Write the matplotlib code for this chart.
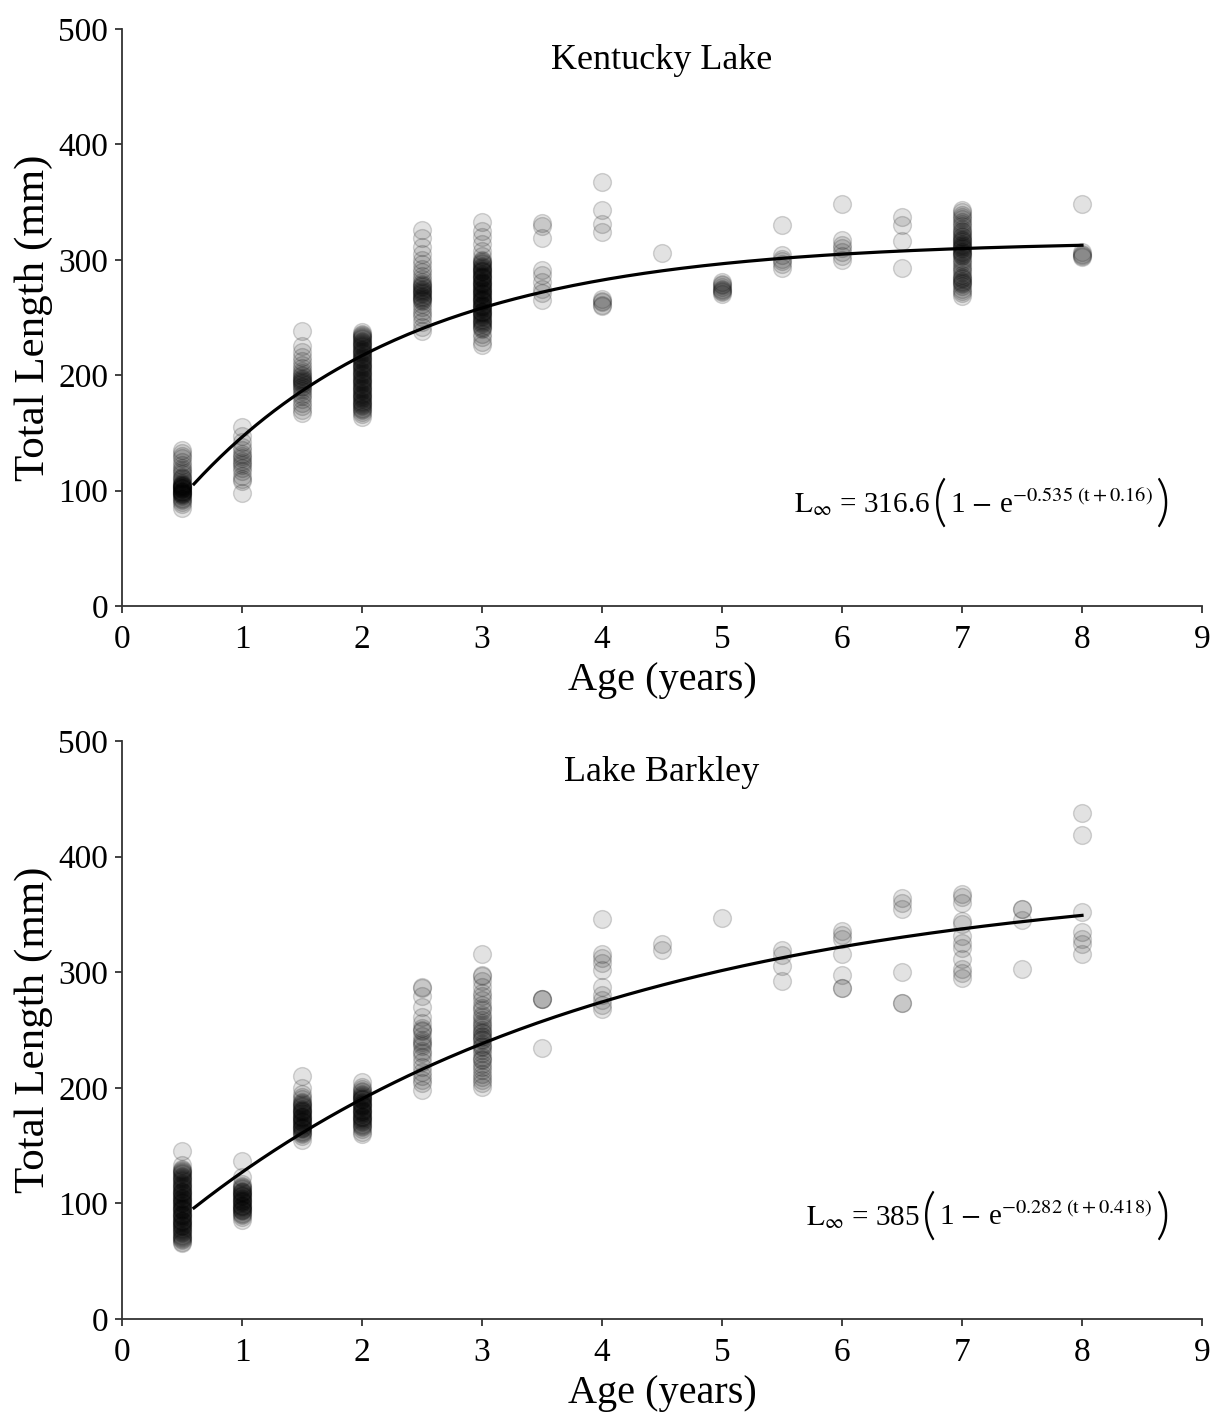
import numpy as np
import matplotlib
matplotlib.use("Agg")
import matplotlib.pyplot as plt
from matplotlib.offsetbox import TextArea, HPacker, AnnotationBbox

plt.rcParams["font.family"] = ["Liberation Serif", "DejaVu Serif"]
plt.rcParams["mathtext.fontset"] = "stix"

# ---------------- Data ----------------
kl_ages = [0.5, 1, 1.5, 2, 2.5, 3, 3.5, 4, 4.5, 5, 5.5, 6, 6.5, 7, 8]
kl_lengths = [
    [135, 133, 130, 128, 125, 122, 120, 118, 116, 114, 112, 111, 110, 108, 107,
     106, 105, 105, 104, 104, 103, 103, 102, 102, 101, 101, 100, 100, 99, 99,
     98, 98, 97, 97, 96, 95, 94, 93, 92, 90, 88, 85],
    [155, 147, 142, 138, 135, 132, 130, 128, 126, 124, 122, 120, 117, 113, 110,
     108, 98],
    [238, 225, 220, 216, 212, 209, 206, 204, 202, 200, 199, 198, 197, 196, 195,
     194, 193, 192, 191, 190, 188, 186, 184, 182, 179, 176, 173, 170, 167],
    [237, 236, 235, 234, 233, 232, 231, 230, 229, 228, 227, 226, 225, 224, 223,
     222, 221, 220, 219, 218, 217, 216, 215, 214, 213, 212, 211, 210, 209, 208,
     207, 206, 205, 204, 203, 202, 201, 200, 199, 198, 197, 196, 195, 194, 193,
     192, 191, 190, 189, 188, 187, 186, 185, 184, 183, 182, 181, 180, 179, 178,
     177, 176, 175, 174, 173, 172, 171, 170, 168, 166, 164],
    [326, 319, 311, 305, 300, 296, 292, 289, 286, 283, 281, 279, 278, 277, 276,
     275, 274, 273, 272, 271, 270, 269, 268, 267, 266, 265, 264, 262, 259, 256,
     253, 250, 246, 242, 238],
    [333, 325, 320, 314, 308, 303, 300, 299, 298, 297, 296, 295, 294, 293, 292,
     291, 290, 289, 288, 287, 286, 285, 284, 283, 282, 281, 280, 279, 278, 277,
     276, 275, 274, 273, 272, 271, 270, 269, 268, 267, 266, 265, 264, 263, 262,
     261, 260, 259, 258, 257, 256, 255, 254, 253, 252, 251, 250, 249, 248, 247,
     246, 245, 244, 243, 242, 241, 240, 236, 233, 229, 226, 290, 285, 280, 275,
     270, 265, 260, 255],
    [332, 329, 319, 291, 287, 281, 275, 271, 265],
    [367, 343, 331, 324, 266, 264, 263, 261, 260],
    [306],
    [281, 279, 278, 276, 275, 274, 273, 272, 270],
    [330, 304, 301, 299, 296, 293],
    [348, 317, 313, 310, 307, 303, 300],
    [337, 330, 316, 293],
    [343, 341, 339, 337, 335, 333, 331, 329, 327, 325, 324, 322, 321, 320, 318,
     317, 316, 315, 314, 313, 312, 311, 310, 309, 308, 307, 306, 305, 304, 303,
     301, 299, 297, 295, 293, 291, 289, 287, 285, 284, 283, 282, 281, 280, 279,
     277, 275, 273, 271, 269],
    [348, 307, 305, 304, 303, 302],
]

lb_ages = [0.5, 1, 1.5, 2, 2.5, 3, 3.5, 4, 4.5, 5, 5.5, 6, 6.5, 7, 7.5, 8]
lb_lengths = [
    [145, 133, 130, 129, 128, 127, 126, 125, 124, 123, 122, 121, 120, 119, 118,
     117, 116, 115, 114, 113, 112, 111, 110, 109, 108, 107, 106, 105, 104, 103,
     102, 101, 100, 99, 98, 97, 96, 95, 94, 93, 92, 91, 90, 89, 88, 87, 86, 85,
     84, 83, 82, 81, 80, 79, 78, 77, 76, 75, 74, 73, 72, 71, 70, 69, 68, 67, 66,
     110, 105, 100, 95, 90, 85, 80],
    [137, 123, 117, 115, 114, 113, 112, 111, 110, 109, 108, 107, 106, 105, 104,
     103, 102, 101, 100, 99, 98, 97, 96, 95, 94, 93, 92, 91, 90, 88, 86, 110,
     106, 102, 98, 94],
    [210, 200, 195, 192, 190, 188, 187, 186, 185, 184, 183, 182, 181, 180, 179,
     178, 177, 176, 175, 174, 173, 172, 171, 170, 169, 168, 167, 166, 165, 164,
     163, 162, 161, 160, 158, 155, 180, 175, 170, 165],
    [205, 201, 199, 197, 196, 195, 194, 193, 192, 191, 190, 189, 188, 187, 186,
     185, 184, 183, 182, 181, 180, 179, 178, 177, 176, 175, 174, 173, 172, 171,
     170, 169, 168, 167, 166, 164, 162, 160, 190, 185, 180, 175],
    [287, 286, 279, 270, 261, 256, 252, 249, 245, 241, 238, 236, 232, 227, 222,
     218, 214, 210, 207, 204, 198, 250, 240, 230],
    [316, 298, 297, 292, 287, 282, 279, 276, 272, 269, 267, 263, 261, 259, 256,
     254, 253, 250, 248, 247, 244, 242, 241, 238, 236, 233, 230, 227, 224, 221,
     218, 215, 212, 209, 207, 204, 201, 245, 235, 225],
    [277, 277, 277, 234],
    [346, 316, 312, 308, 302, 287, 280, 276, 272, 268],
    [324, 319],
    [347],
    [319, 315, 305, 292],
    [336, 332, 329, 316, 298, 286, 286],
    [364, 360, 355, 300, 273, 273],
    [368, 365, 360, 344, 342, 331, 325, 321, 311, 303, 299, 295],
    [355, 355, 345, 303],
    [438, 419, 352, 335, 329, 324, 316],
]

# von Bertalanffy fits shown on the panels: (Linf, k, t0)
kl_fit = (316.6, 0.535, -0.16)
lb_fit = (385, 0.282, -0.418)
fit_range = (0.6, 8)

titles = ["Kentucky Lake", "Lake Barkley"]
eq_lhs = [r"$\mathrm{L}_{\infty}$ = 316.6", r"$\mathrm{L}_{\infty}$ = 385"]
eq_body = [r"1 $-$ e$^{-0.535\ (\mathrm{t}+0.16)}$",
           r"1 $-$ e$^{-0.282\ (\mathrm{t}+0.418)}$"]


def flatten(ages, lengths):
    xs, ys = [], []
    for a, ls in zip(ages, lengths):
        xs += [a] * len(ls)
        ys += ls
    return np.array(xs), np.array(ys)


# ---------------- Figure ----------------
fig = plt.figure(figsize=(12.15, 14.12), dpi=100)
ax_top = fig.add_axes([0.1004, 0.5708, 0.8889, 0.4087])
ax_bot = fig.add_axes([0.1004, 0.0659, 0.8889, 0.4093])

panels = [(ax_top, kl_ages, kl_lengths, kl_fit),
          (ax_bot, lb_ages, lb_lengths, lb_fit)]

paren_props = dict(fontsize=40, family=["Lato", "Roboto", "DejaVu Sans"],
                   weight=300, color="black")

for i, (ax, ages, lengths, fit) in enumerate(panels):
    x, y = flatten(ages, lengths)
    ax.scatter(x, y, s=165, facecolor=(0, 0, 0, 0.115),
               edgecolor=(0, 0, 0, 0.16), linewidth=1.0, zorder=2)

    linf, k, t0 = fit
    t = np.linspace(fit_range[0], fit_range[1], 200)
    ax.plot(t, linf * (1 - np.exp(-k * (t - t0))), color="black", lw=2.3, zorder=3)

    ax.set_xlim(0, 9)
    ax.set_ylim(0, 500)
    ax.set_xticks(range(0, 10))
    ax.set_yticks(range(0, 501, 100))
    for s in ["top", "right"]:
        ax.spines[s].set_visible(False)
    for s in ["left", "bottom"]:
        ax.spines[s].set_color("#333333")
        ax.spines[s].set_linewidth(1.3)
    ax.tick_params(axis="both", direction="out", length=5, width=1.3,
                   color="#333333", labelsize=24)
    ax.tick_params(axis="x", pad=8)
    ax.tick_params(axis="y", pad=5)

    ax.set_ylabel("Total Length (mm)", fontsize=31)
    ax.set_xlabel("Age (years)", fontsize=29)
    ax.yaxis.set_label_coords(-0.064, 0.5)
    ax.xaxis.set_label_coords(0.5, -0.097)

    ax.text(4.5, 473, titles[i], ha="center", va="center", fontsize=26)

    # equation with tall, thin parentheses
    parts = [TextArea(eq_lhs[i], textprops=dict(fontsize=21)),
             TextArea("(", textprops=paren_props),
             TextArea(eq_body[i], textprops=dict(fontsize=21)),
             TextArea(")", textprops=paren_props)]
    box = HPacker(children=parts, align="center", pad=0, sep=2)
    ab = AnnotationBbox(box, (8.73, 88), xycoords="data", box_alignment=(1, 0.5),
                        frameon=False, pad=0)
    ax.add_artist(ab)

fig.savefig("out.png", dpi=100)
